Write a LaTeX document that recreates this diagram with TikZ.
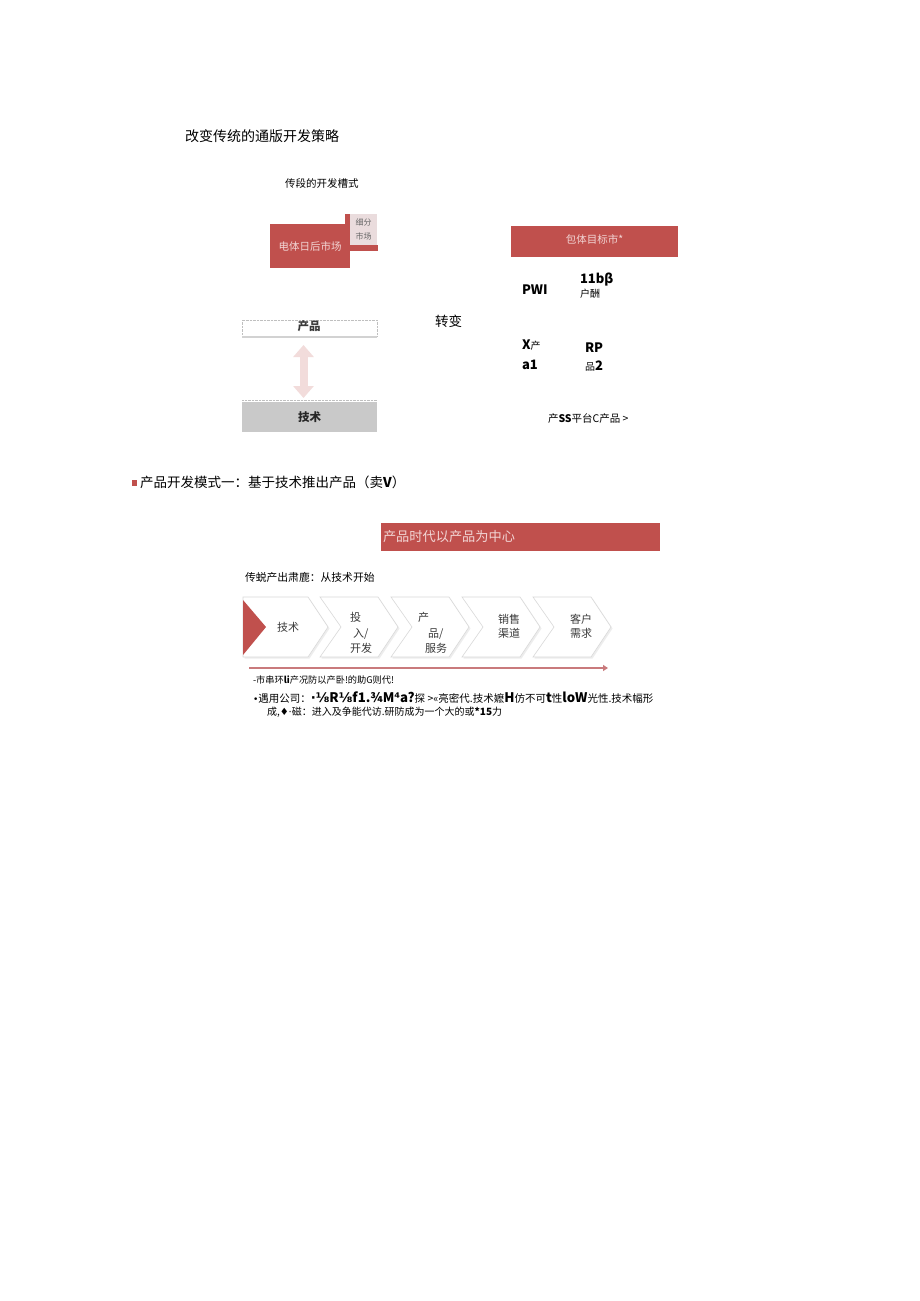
\documentclass[tikz,border=0pt]{standalone}
\usepackage{fontspec}
\setmainfont{Noto Sans CJK SC}
\newfontfamily\symfont{DejaVu Sans}
\usetikzlibrary{arrows.meta}

\definecolor{boxred}{HTML}{C0504D}
\definecolor{paletext}{HTML}{F2D6D5}
\definecolor{segpink}{HTML}{EADCDD}
\definecolor{techgray}{HTML}{C9C9C9}
\definecolor{darktext}{HTML}{3A3A3A}
\definecolor{chevline}{HTML}{D9D9D9}
\definecolor{chevshadow}{HTML}{EDEDED}
\definecolor{arrowpink}{HTML}{F2DCDB}
\definecolor{flowred}{HTML}{C97A7C}

\newcommand{\fsz}[1]{\fontsize{#1}{#1}\selectfont}

\begin{document}
\begin{tikzpicture}[x=1pt,y=-1pt,
  txt/.style={anchor=west},
  redbox/.style={fill=boxred, draw=none, text=paletext},
  chev/.style={fill=white, draw=chevline, line width=0.6pt},
  chevtext/.style={text=darktext, font=\fontsize{11}{15.5}\selectfont, align=left, anchor=west}]
\tikzstyle{every node}=[inner sep=0pt, outer sep=0pt]

% white page
\path[use as bounding box, fill=white] (0,0) rectangle (920,1301);

% headings
\node[txt, font=\fsz{14}] (title) at (185,136) {改变传统的通版开发策略};
\node[txt, font=\fsz{10.5}] (oldmode) at (285,183) {传段的开发槽式};

% old market box with the small segment box
\fill[boxred] (345,214) rectangle (350,224);
\node[redbox, minimum width=80, minimum height=44, font=\fsz{10.5}] (oldmkt) at (310,246) {电体日后市场};
\node[fill=segpink, minimum width=27, minimum height=31, text=black!60, font=\fontsize{8}{14}\selectfont, align=center] (segmkt) at (363.5,229.5) {细分\\市场};
\fill[boxred] (350,245) rectangle (378,251);

% product / technology
\draw[densely dotted, gray!50] (242,336) -- (242,320) -- (377,320) -- (377,336);
\draw[gray!35, line width=1.5] (242,337) -- (377,337);
\node[font=\bfseries\fsz{11.5}, text=darktext] (prod) at (309,326) {产品};
\draw[densely dotted, gray!50] (242,400) -- (377,400);
\node[fill=techgray, minimum width=135, minimum height=30, font=\bfseries\fsz{11.5}, text=black!85] (tech) at (309.5,417) {技术};
\coordinate (arrtop) at (303.5,345);
\coordinate (arrbot) at (303.5,398);
\draw[arrowpink, line width=8, {Triangle[length=12pt,width=20pt]}-{Triangle[length=12pt,width=20pt]}] (arrtop) -- (arrbot);

% the turn
\node[txt, font=\fsz{13.5}] (turn) at (435,321) {转变};

% new target market
\node[redbox, minimum width=167, minimum height=31, font=\fsz{10.5}] (newmkt) at (594.5,241.5) {\raisebox{4pt}{包体目标市*}};
\node[txt, font=\bfseries\fsz{13}] (pwi) at (522,290) {PWI};
\node[txt, font=\bfseries\fsz{13}] (ib) at (580,280) {11bβ};
\node[txt, font=\fsz{10}] (hu) at (580,294) {户酬};
\node[txt] (xc) at (522,345) {\bfseries\fsz{13}X\mdseries\fsz{10}产};
\node[txt, font=\bfseries\fsz{13}] (a1) at (522,365) {a1};
\node[txt, font=\bfseries\fsz{13}] (rp) at (585,348) {RP};
\node[txt] (p2) at (585,366) {\fsz{10}品\bfseries\fsz{13}2};
\node[txt, font=\fsz{10.5}] (plat) at (548,419) {产\textbf{SS}平台C产品 >};

% mode one
\node[fill=boxred, minimum size=5.5] (bullet) at (134.5,483) {};
\node[txt, font=\fsz{13.5}] (modeone) at (140,482) {产品开发模式一：基于技术推出产品（卖\textbf{V}）};
\node[redbox, text width=275, minimum height=28, inner xsep=2, align=left, font=\fsz{13.2}] (era) at (520.5,536.5) {产品时代以产品为中心};
\node[txt, font=\fsz{10.8}] (trad) at (245,577) {传蜕产出肃鹿：从技术开始};

% chevrons
\foreach \i in {1,...,5} {
  \pgfmathsetmacro\xo{249+71*(\i-1)-6*(\i==1)}
  \pgfmathsetmacro\nd{(\i>1)*21}
  \pgfmathsetmacro\bw{58+7*(\i==1)}
  \fill[chevshadow] (\xo+1.5,598.5) -- (\xo+\bw+1.5,598.5) -- (\xo+\bw+21.5,628.5) -- (\xo+\bw+1.5,658.5) -- (\xo+1.5,658.5) -- (\xo+\nd+1.5,628.5) -- cycle;
  \filldraw[chev] (\xo,597) -- (\xo+\bw,597) -- (\xo+\bw+20,627) -- (\xo+\bw,657) -- (\xo,657) -- (\xo+\nd,627) -- cycle;
}
\fill[boxred] (243,600) -- (266,627) -- (243,655) -- cycle;
\node[chevtext, anchor=center] (c1) at (288,627) {技术};
\node[chevtext] (c2) at (350,633) {投\\\hspace*{3pt}入/\\开发};
\node[chevtext] (c3) at (418,633) {产\\\hspace*{10pt}品/\\\hspace*{7pt}服务};
\node[chevtext, align=center, anchor=center, font=\fontsize{11}{14}\selectfont] (c4) at (509,626) {销售\\渠道};
\node[chevtext, align=center, anchor=center, font=\fontsize{11}{14}\selectfont] (c5) at (581,626) {客户\\需求};

% flow arrow
\coordinate (flowstart) at (249,668);
\coordinate (flowend) at (608,668);
\draw[flowred, line width=2.5, -{Triangle[length=5pt,width=6pt]}] (flowstart) -- (flowend);

% notes
\node[txt, font=\fsz{9.2}] (note1) at (253,680) {-市串环\textbf{li}产况防以产卧!的助G则代!};
\node[txt, font=\fsz{10.5}] (note2) at (253,698) {{\symfont\fsz{9}•}遇用公司：{\bfseries\fsz{13.2}{\symfont·⅛}R{\symfont⅛}f1.¾M{\symfont⁴}a?}探 >«亮密代.技术嬷{\bfseries\fsz{13.2}H}仿不可{\bfseries\fsz{13.2}t}性{\bfseries\fsz{13.2}loW}光性.技术幅形};
\node[txt, font=\fsz{10}] (note3) at (267,712) {成,{\symfont♦·}磁：进入及争能代访.研防成为一个大的或\textbf{*15}力};

\end{tikzpicture}
\end{document}
